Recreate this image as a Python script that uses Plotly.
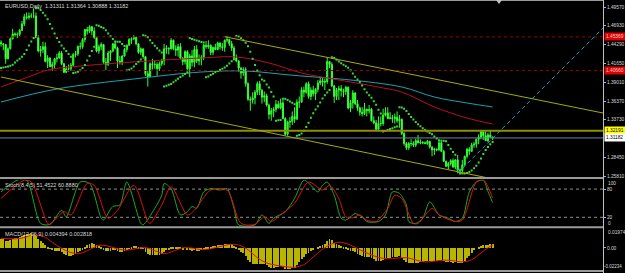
import plotly.graph_objects as go

# ---------------- text ----------------
title_text = "EURUSD,Daily  1.31311 1.31364 1.30888 1.31182"
stoch_text = "Stoch(8,4,5) 51.4522 60.8880"
macd_text = "MACD(12,26,9) 0.004394 0.002818"

# ---------------- price data (daily bars) ----------------
first_open = 1.4460
closes = [1.4440,1.4430,1.4230,1.4370,1.4510,1.4580,1.4570,1.4570,1.4630,1.4720,
          1.4820,1.4810,1.4830,1.4830,1.4830,1.4530,1.4340,1.4360,1.4400,1.4190,
          1.4240,1.4120,1.4150,1.4230,1.4240,1.4310,1.4160,1.4040,1.4090,1.4090,
          1.4140,1.4290,1.4300,1.4400,1.4400,1.4500,1.4640,1.4620,1.4680,1.4620,
          1.4530,1.4340,1.4400,1.4430,1.4180,1.4150,1.4310,1.4340,1.4440,1.4380,
          1.4200,1.4180,1.4270,1.4360,1.4420,1.4500,1.4510,1.4530,1.4440,1.4320,
          1.4370,1.4260,1.4020,1.3980,1.4160,1.4150,1.4150,1.4090,1.4160,1.4200,
          1.4370,1.4380,1.4370,1.4490,1.4370,1.4350,1.4400,1.4240,1.4190,1.4330,
          1.4090,1.4270,1.4180,1.4360,1.4200,1.4230,1.4250,1.4420,1.4400,1.4420,
          1.4320,1.4390,1.4360,1.4450,1.4400,1.4390,1.4490,1.4500,1.4440,1.4380,
          1.4240,1.4200,1.4100,1.4030,1.4080,1.3880,1.3660,1.3650,1.3680,1.3760,
          1.3880,1.3790,1.3690,1.3710,1.3580,1.3450,1.3500,1.3520,1.3590,1.3540,
          1.3610,1.3390,1.3170,1.3340,1.3350,1.3420,1.3380,1.3620,1.3620,1.3790,
          1.3760,1.3880,1.3700,1.3790,1.3740,1.3800,1.3890,1.3920,1.3900,1.3910,
          1.4190,1.4150,1.3850,1.3700,1.3790,1.3810,1.3780,1.3770,1.3830,1.3540,
          1.3610,1.3750,1.3600,1.3540,1.3480,1.3460,1.3520,1.3500,1.3520,1.3360,
          1.3330,1.3240,1.3320,1.3320,1.3440,1.3470,1.3390,1.3400,1.3390,1.3410,
          1.3360,1.3380,1.3180,1.3040,1.2980,1.3040,1.3040,1.3020,1.3080,1.3050,
          1.3060,1.3050,1.3040,1.3070,1.2990,1.2950,1.2960,1.2950,1.3050,1.2930,
          1.2790,1.2720,1.2760,1.2800,1.2710,1.2810,1.2670,1.2660,1.2740,1.2860,
          1.2960,1.2930,1.3020,1.3030,1.3100,1.3130,1.3210,1.3150,1.3080,1.3160,
          1.3131,1.31182]
highs = [1.4490,1.4450,1.4440,1.4390,1.4530,1.4650,1.4600,1.4600,1.4650,1.4760,
         1.4860,1.4880,1.4880,1.4870,1.4940,1.4880,1.4560,1.4410,1.4470,1.4460,
         1.4280,1.4250,1.4190,1.4240,1.4300,1.4340,1.4340,1.4170,1.4130,1.4150,
         1.4170,1.4310,1.4340,1.4420,1.4460,1.4520,1.4650,1.4680,1.4700,1.4690,
         1.4670,1.4540,1.4430,1.4460,1.4440,1.4240,1.4340,1.4350,1.4450,1.4470,
         1.4400,1.4270,1.4280,1.4380,1.4430,1.4520,1.4530,1.4560,1.4540,1.4450,
         1.4390,1.4370,1.4270,1.4060,1.4180,1.4230,1.4200,1.4180,1.4190,1.4230,
         1.4440,1.4420,1.4390,1.4520,1.4500,1.4420,1.4440,1.4450,1.4250,1.4350,
         1.4350,1.4300,1.4350,1.4410,1.4420,1.4290,1.4280,1.4440,1.4480,1.4490,
         1.4430,1.4400,1.4440,1.4470,1.4460,1.4450,1.4500,1.4550,1.4510,1.4480,
         1.4410,1.4290,1.4210,1.4110,1.4110,1.4110,1.3900,1.3700,1.3760,1.3790,
         1.3910,1.3920,1.3800,1.3770,1.3740,1.3600,1.3540,1.3550,1.3650,1.3640,
         1.3670,1.3650,1.3410,1.3360,1.3410,1.3490,1.3550,1.3660,1.3700,1.3830,
         1.3840,1.3900,1.3910,1.3830,1.3850,1.3820,1.3930,1.3960,1.3960,1.3950,
         1.4250,1.4200,1.4180,1.3860,1.3820,1.3850,1.3860,1.3810,1.3850,1.3840,
         1.3650,1.3790,1.3760,1.3650,1.3560,1.3550,1.3610,1.3530,1.3580,1.3540,
         1.3420,1.3370,1.3420,1.3420,1.3530,1.3550,1.3550,1.3480,1.3440,1.3460,
         1.3490,1.3440,1.3390,1.3200,1.3060,1.3060,1.3100,1.3070,1.3110,1.3160,
         1.3100,1.3070,1.3070,1.3090,1.3080,1.3000,1.2980,1.2970,1.3080,1.3070,
         1.2950,1.2800,1.2780,1.2820,1.2830,1.2820,1.2880,1.2690,1.2810,1.2870,
         1.2980,1.2990,1.3050,1.3060,1.3110,1.3170,1.3230,1.3230,1.3210,1.3190,
         1.3230,1.31364]
lows = [1.4400,1.4350,1.4160,1.4220,1.4360,1.4500,1.4540,1.4520,1.4550,1.4620,
        1.4690,1.4780,1.4780,1.4800,1.4800,1.4520,1.4320,1.4260,1.4310,1.4180,
        1.4100,1.4110,1.4060,1.4090,1.4180,1.4230,1.4140,1.4030,1.4030,1.4050,
        1.4060,1.4120,1.4250,1.4270,1.4360,1.4370,1.4460,1.4570,1.4590,1.4560,
        1.4510,1.4320,1.4300,1.4350,1.4160,1.4070,1.4130,1.4200,1.4320,1.4360,
        1.4100,1.4150,1.4140,1.4260,1.4320,1.4410,1.4440,1.4490,1.4420,1.4300,
        1.4280,1.4230,1.3990,1.3840,1.3970,1.4080,1.4090,1.3990,1.4060,1.4130,
        1.4140,1.4300,1.4290,1.4360,1.4350,1.4270,1.4260,1.4220,1.4140,1.4150,
        1.4050,1.3970,1.4120,1.4110,1.4170,1.4140,1.4140,1.4210,1.4370,1.4370,
        1.4280,1.4280,1.4350,1.4350,1.4360,1.4340,1.4330,1.4460,1.4410,1.4340,
        1.4230,1.4180,1.4050,1.3950,1.3990,1.3840,1.3640,1.3500,1.3600,1.3590,
        1.3720,1.3720,1.3600,1.3620,1.3560,1.3380,1.3360,1.3410,1.3480,1.3530,
        1.3520,1.3380,1.3150,1.3150,1.3260,1.3300,1.3330,1.3380,1.3540,1.3620,
        1.3690,1.3740,1.3670,1.3650,1.3700,1.3650,1.3760,1.3860,1.3840,1.3790,
        1.3880,1.4100,1.3830,1.3610,1.3650,1.3650,1.3700,1.3690,1.3720,1.3520,
        1.3480,1.3530,1.3580,1.3500,1.3430,1.3420,1.3440,1.3420,1.3460,1.3350,
        1.3310,1.3210,1.3230,1.3280,1.3290,1.3420,1.3380,1.3380,1.3330,1.3320,
        1.3330,1.3260,1.3160,1.3010,1.2950,1.2950,1.3000,1.2990,1.2990,1.3040,
        1.3030,1.3030,1.3030,1.3020,1.2970,1.2860,1.2880,1.2930,1.2940,1.2920,
        1.2780,1.2710,1.2680,1.2730,1.2700,1.2680,1.2620,1.2620,1.2640,1.2730,
        1.2830,1.2880,1.2920,1.2980,1.2980,1.3030,1.3100,1.3090,1.3080,1.3060,
        1.3120,1.30888]
opens = [first_open] + closes[:-1]
bars = list(range(len(closes)))

sar_start = 1.4100

# moving averages (sparse readings: bar index, price)
ma_red_bar = [0, 14, 20, 39, 86, 101, 115, 129, 140, 150, 164, 172, 186, 200, 211]
ma_red_val = [1.3834, 1.4002, 1.4072, 1.4142, 1.4241, 1.4255, 1.4171, 1.4030, 1.3960,
              1.3904, 1.3820, 1.3763, 1.3553, 1.3398, 1.3314]
ma_cyan_bar = [0, 24, 57, 86, 105, 124, 140, 150, 172, 186, 200, 211]
ma_cyan_val = [1.3623, 1.3806, 1.3946, 1.4044, 1.4058, 1.4002, 1.3960, 1.3932, 1.3834,
               1.3693, 1.3609, 1.3553]

# drawn objects
hline_red = [1.45369, 1.40660]
hline_yellow = 1.32191
bid_price = 1.31182
upper_tl_bar = [96, 258.4]
upper_tl_val = [1.4540, 1.3468]
lower_tl_bar = [0, 215]
lower_tl_val = [1.3974, 1.2516]
proj_bar = [196, 262]
proj_val = [1.2624, 1.4780]

main_ticks = [1.4957, 1.4693, 1.4429, 1.4165, 1.3901, 1.3637, 1.3373, 1.2845, 1.2581]

# stochastic (sparse readings)
k_bar = [0,7,11,17,21,26,28,34,38,43,44,48,51,54,60,61,66,69,70,73,77,80,82,84,87,90,94,97,100,102,
         109,112,115,117,122,126,130,133,136,138,140,143,146,148,151,152,155,157,162,165,168,171,174,175,
         178,181,184,187,188,192,195,198,201,204,207,209,211]
k_val = [74,99,99,7,5,35,21,95,92,18,14,43,46,95,7,4,39,67,92,81,25,32,43,39,74,81,78,81,39,4,
         4,25,7,18,32,60,99,88,74,88,95,67,18,14,25,28,21,11,11,25,74,71,46,11,
         7,18,53,32,25,18,11,18,74,95,99,75,51.45]
d_bar = [0,10,13,20,21,27,30,37,40,46,50,57,63,64,69,73,80,83,90,97,103,109,113,116,120,126,132,138,141,145,
         148,151,154,157,161,166,169,172,177,179,185,188,195,198,204,207,209,211]
d_val = [60,99,95,7,5,32,25,92,88,18,35,88,11,7,46,85,25,35,78,78,7,5,21,11,25,50,95,78,88,60,
         21,19,25,14,11,39,67,60,7,7,39,25,11,14,95,100,85,60.89]
stoch_levels = [80, 20]

# MACD main (histogram, one per bar) and signal (sparse)
macd_main = [0.0100,0.0096,0.0080,0.0078,0.0088,0.0098,0.0104,0.0108,0.0114,0.0124,
             0.0136,0.0143,0.0149,0.0152,0.0150,0.0122,0.0094,0.0072,0.0058,0.0032,
             0.0016,-0.0004,-0.0018,-0.0024,-0.0028,-0.0026,-0.0040,-0.0060,-0.0068,-0.0074,
             -0.0074,-0.0062,-0.0052,-0.0036,-0.0024,-0.0006,0.0018,0.0034,0.0050,0.0054,
             0.0050,0.0032,0.0022,0.0016,-0.0006,-0.0024,-0.0024,-0.0022,-0.0012,-0.0010,
             -0.0022,-0.0034,-0.0034,-0.0026,-0.0014,0.0002,0.0014,0.0024,0.0024,0.0014,
             0.0010,-0.0004,-0.0034,-0.0060,-0.0064,-0.0066,-0.0066,-0.0070,-0.0066,-0.0058,
             -0.0036,-0.0018,-0.0006,0.0014,0.0018,0.0016,0.0020,0.0008,-0.0006,0.0000,
             -0.0018,-0.0018,-0.0026,-0.0018,-0.0022,-0.0022,-0.0020,-0.0004,0.0006,0.0016,
             0.0016,0.0022,0.0024,0.0034,0.0036,0.0036,0.0044,0.0050,0.0050,0.0044,
             0.0026,0.0008,-0.0014,-0.0036,-0.0050,-0.0076,-0.0112,-0.0138,-0.0154,-0.0160,
             -0.0154,-0.0154,-0.0160,-0.0162,-0.0172,-0.0190,-0.0196,-0.0196,-0.0190,-0.0186,
             -0.0176,-0.0184,-0.0208,-0.0210,-0.0208,-0.0200,-0.0194,-0.0166,-0.0142,-0.0108,
             -0.0082,-0.0052,-0.0042,-0.0024,-0.0014,0.0000,0.0016,0.0030,0.0040,0.0048,
             0.0076,0.0094,0.0082,0.0060,0.0048,0.0040,0.0030,0.0020,0.0016,-0.0012,
             -0.0026,-0.0026,-0.0040,-0.0054,-0.0068,-0.0080,-0.0082,-0.0086,-0.0084,-0.0098,
             -0.0110,-0.0124,-0.0126,-0.0126,-0.0116,-0.0104,-0.0100,-0.0094,-0.0090,-0.0084,
             -0.0084,-0.0080,-0.0094,-0.0116,-0.0136,-0.0144,-0.0148,-0.0150,-0.0146,-0.0144,
             -0.0140,-0.0136,-0.0132,-0.0126,-0.0126,-0.0128,-0.0128,-0.0126,-0.0114,-0.0112,
             -0.0122,-0.0136,-0.0140,-0.0140,-0.0146,-0.0140,-0.0148,-0.0150,-0.0144,-0.0122,
             -0.0098,-0.0074,-0.0048,-0.0020,0.0000,0.0016,0.0028,0.0036,0.0038,0.0040,
             0.0042,0.0044]
sig_bar = [0,8,14,18,22,26,30,34,38,42,46,50,54,58,62,66,70,74,78,82,86,90,94,98,102,106,110,114,118,122,
           126,130,134,138,142,146,150,154,158,162,166,170,174,178,182,186,190,194,198,202,206,209,211]
sig_val = [0.0098,0.0096,0.0131,0.0120,0.0058,-0.0004,-0.0046,-0.0054,-0.0017,0.0026,0.0019,-0.0009,
           -0.0022,-0.0007,0.0004,-0.0027,-0.0058,-0.0032,0.0001,-0.0001,-0.0017,-0.0008,0.0014,0.0035,
           0.0031,-0.0018,-0.0099,-0.0152,-0.0175,-0.0189,-0.0195,-0.0169,-0.0092,-0.0014,0.0041,0.0058,
           0.0029,-0.0018,-0.0061,-0.0095,-0.0110,-0.0103,-0.0098,-0.0122,-0.0142,-0.0134,-0.0124,-0.0129,
           -0.0141,-0.0119,-0.0051,0.0002,0.0028]
macd_top, macd_bottom = 0.01974, -0.02234


def parabolic_sar(hi, lo, start, step=0.02, cap=0.2):
    out = [start]
    up, af, ep, s = True, step, hi[0], start
    for i in range(1, len(hi)):
        s = s + af * (ep - s)
        if up:
            s = min(s, lo[i - 1], lo[max(i - 2, 0)])
            if lo[i] < s:
                up, s, ep, af = False, ep, lo[i], step
            elif hi[i] > ep:
                ep, af = hi[i], min(af + step, cap)
        else:
            s = max(s, hi[i - 1], hi[max(i - 2, 0)])
            if hi[i] > s:
                up, s, ep, af = True, ep, hi[i], step
            elif lo[i] < ep:
                ep, af = lo[i], min(af + step, cap)
        out.append(s)
    return out


sar = parabolic_sar(highs, lows, sar_start)

# ---------------- geometry ----------------
W, H = 625, 273
PX_PER_BAR = 2.33
PLOT_R_PX = 603
X0 = -1 / PX_PER_BAR
X1 = X0 + PLOT_R_PX / PX_PER_BAR
PR = PLOT_R_PX / W


def py(y):
    return 1 - y / H


PRICE_PER_PX = 0.0014043
main_top = 1.4957 + (7 - 1.5) * PRICE_PER_PX
main_bot = 1.4957 - (177 - 7) * PRICE_PER_PX

FONT = "Liberation Sans"
TXT = "#d8d8d8"
AX_FS = 4.8

fig = go.Figure()

# candles
fig.add_trace(go.Candlestick(
    x=bars, open=opens, high=highs, low=lows, close=closes,
    xaxis="x", yaxis="y", whiskerwidth=0,
    increasing=dict(line=dict(color="#30ff30", width=1), fillcolor="#28c828"),
    decreasing=dict(line=dict(color="#30ff30", width=1), fillcolor="#b8ffb0"),
    hoverinfo="skip", showlegend=False))

# moving averages
fig.add_trace(go.Scatter(x=ma_cyan_bar, y=ma_cyan_val, mode="lines", line=dict(color="#1aa3ad", width=1, shape="spline"),
                         xaxis="x", yaxis="y", hoverinfo="skip"))
fig.add_trace(go.Scatter(x=ma_red_bar, y=ma_red_val, mode="lines", line=dict(color="#b80f28", width=1, shape="spline"),
                         xaxis="x", yaxis="y", hoverinfo="skip"))

# SAR
fig.add_trace(go.Scatter(x=bars, y=sar, mode="markers",
                         marker=dict(symbol="square", size=2, color="#3ad83a", line=dict(width=0)),
                         xaxis="x", yaxis="y", hoverinfo="skip"))

# horizontal lines
for v in hline_red:
    fig.add_trace(go.Scatter(x=[X0, X1], y=[v, v], mode="lines", line=dict(color="#9a0000", width=1, dash="dot"),
                             xaxis="x", yaxis="y", hoverinfo="skip"))
fig.add_trace(go.Scatter(x=[X0, X1], y=[hline_yellow, hline_yellow], mode="lines",
                         line=dict(color="#8f8f00", width=2), xaxis="x", yaxis="y", hoverinfo="skip"))
fig.add_trace(go.Scatter(x=[X0, X1], y=[bid_price, bid_price], mode="lines",
                         line=dict(color="#6a84a4", width=1), xaxis="x", yaxis="y", hoverinfo="skip"))

# trend lines
fig.add_trace(go.Scatter(x=upper_tl_bar, y=upper_tl_val, mode="lines", line=dict(color="#a8a810", width=1),
                         xaxis="x", yaxis="y", hoverinfo="skip"))
fig.add_trace(go.Scatter(x=lower_tl_bar, y=lower_tl_val, mode="lines", line=dict(color="#a8a810", width=1),
                         xaxis="x", yaxis="y", hoverinfo="skip"))
fig.add_trace(go.Scatter(x=proj_bar, y=proj_val, mode="lines", line=dict(color="#18a8b8", width=1, dash="4px,3px"),
                         xaxis="x", yaxis="y", hoverinfo="skip"))

# stochastic
for lv in stoch_levels:
    fig.add_trace(go.Scatter(x=[X0, X1], y=[lv, lv], mode="lines", line=dict(color="#909090", width=1, dash="dot"),
                             xaxis="x2", yaxis="y2", hoverinfo="skip"))
fig.add_trace(go.Scatter(x=k_bar, y=k_val, mode="lines", line=dict(color="#1fa81f", width=1, shape="spline", smoothing=0.8),
                         xaxis="x2", yaxis="y2", hoverinfo="skip"))
fig.add_trace(go.Scatter(x=d_bar, y=d_val, mode="lines", line=dict(color="#e01010", width=1, shape="spline", smoothing=0.8),
                         xaxis="x2", yaxis="y2", hoverinfo="skip"))

# MACD
fig.add_trace(go.Bar(x=bars, y=macd_main, width=0.38, marker=dict(color="#b8b400", line=dict(width=0)),
                     xaxis="x3", yaxis="y3", hoverinfo="skip"))
fig.add_trace(go.Scatter(x=sig_bar, y=sig_val, mode="lines", line=dict(color="#e01010", width=1, shape="spline"),
                         xaxis="x3", yaxis="y3", hoverinfo="skip"))

xcommon = dict(domain=[0, PR], range=[X0, X1], showgrid=False, zeroline=False, showticklabels=False,
               ticks="", showline=False, fixedrange=True)
ycommon = dict(side="right", showgrid=False, zeroline=False, showline=False, ticks="outside", ticklen=2,
               tickcolor="#b0b0b0", tickfont=dict(family=FONT, size=AX_FS, color=TXT), automargin=False,
               ticklabelstandoff=0)

fig.update_layout(
    width=W, height=H, margin=dict(l=0, r=0, t=0, b=0),
    paper_bgcolor="#000000", plot_bgcolor="#000000", showlegend=False, bargap=0,
    xaxis=dict(**xcommon, anchor="y", rangeslider=dict(visible=False)),
    xaxis2=dict(**xcommon, anchor="y2", matches="x"),
    xaxis3=dict(**xcommon, anchor="y3", matches="x"),
    yaxis=dict(**ycommon, anchor="x", domain=[py(177), py(1.5)], range=[main_bot, main_top],
               tickvals=main_ticks, ticktext=[f"{t:.5f}" for t in main_ticks]),
    yaxis2=dict(**ycommon, anchor="x2", domain=[py(226.7), py(179.7)], range=[0, 100],
                tickvals=stoch_levels, ticktext=[str(v) for v in stoch_levels]),
    yaxis3=dict(**ycommon, anchor="x3", domain=[py(270), py(228.5)], range=[macd_bottom, macd_top],
                tickvals=[0], ticktext=["0.00"]),
)

ann = []
# headers
ann.append(dict(x=3 / W, y=py(1.5), xref="paper", yref="paper", xanchor="left", yanchor="top",
                text=title_text, showarrow=False, font=dict(family=FONT, size=5.5, color=TXT)))
ann.append(dict(x=3 / W, y=py(185), xref="paper", yref="paper", xanchor="left", yanchor="middle",
                text=stoch_text, showarrow=False, font=dict(family=FONT, size=5.5, color=TXT)))
ann.append(dict(x=3 / W, y=py(234.5), xref="paper", yref="paper", xanchor="left", yanchor="middle",
                text=macd_text, showarrow=False, font=dict(family=FONT, size=5.5, color=TXT)))
# edge labels of sub windows
for txt, ypx in [("100", 183), ("0", 223), (f"{macd_top:.5f}", 232)]:
    ann.append(dict(x=606 / W, y=py(ypx), xref="paper", yref="paper", xanchor="left", yanchor="middle",
                    text=txt, showarrow=False, font=dict(family=FONT, size=AX_FS, color=TXT)))
ann.append(dict(x=624 / W, y=py(266), xref="paper", yref="paper", xanchor="right", yanchor="middle",
                text=f"{macd_bottom:.5f}", showarrow=False, font=dict(family=FONT, size=AX_FS - 0.3, color=TXT)))
# price boxes
for val, bg, fg in [(hline_red[0], "#e00000", "#ffd0d0"), (hline_red[1], "#e00000", "#ffd0d0"),
                    (hline_yellow, "#ffff00", "#000000"), (bid_price, "#ffffff", "#000000")]:
    ann.append(dict(x=604 / W, y=val, xref="paper", yref="y", xanchor="left", yanchor="middle",
                    text=f"{val:.5f}", showarrow=False, bgcolor=bg, borderpad=1, width=19, align="left",
                    font=dict(family=FONT, size=AX_FS, color=fg)))
fig.update_layout(annotations=ann)

# window frames / separators
shapes = []
grey = "#9a9a9a"
for ypx, w in [(0.5, 1), (178, 2), (227.3, 2), (271, 2)]:
    shapes.append(dict(type="line", xref="paper", yref="paper", x0=0, x1=PR, y0=py(ypx), y1=py(ypx),
                       line=dict(color=grey, width=w)))
shapes.append(dict(type="line", xref="paper", yref="paper", x0=603.5 / W, x1=603.5 / W, y0=0, y1=1,
                   line=dict(color="#c0c0c0", width=1)))
# chart shift marker
shapes.append(dict(type="path", xref="paper", yref="paper",
                   path=f"M {496/W},{py(0)} L {502/W},{py(0)} L {499/W},{py(4)} Z",
                   fillcolor="#c0c0c0", line=dict(width=0)))
fig.update_layout(shapes=shapes)

fig.write_html("out.html")
